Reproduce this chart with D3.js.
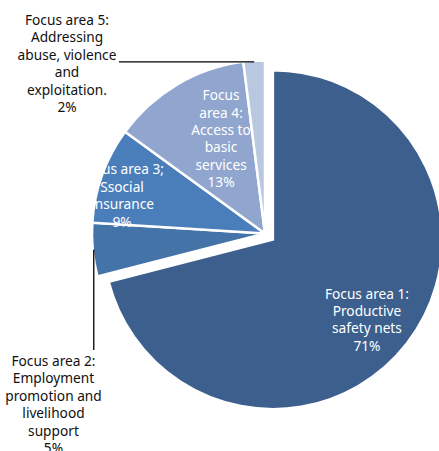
<!DOCTYPE html>
<html>
<head>
<meta charset="utf-8">
<script src="https://cdn.jsdelivr.net/npm/d3@7"></script>
<style>
  html, body { margin: 0; padding: 0; background: #ffffff; }
  svg { display: block; }
  text { font-family: "Noto Sans", "DejaVu Sans", sans-serif; }
</style>
</head>
<body>
<div id="chart"></div>
<script>
// Share of spending by focus area (percent)
const categories = [
  "Focus area 1: Productive safety nets",
  "Focus area 2: Employment promotion and livelihood support",
  "Focus area 3; Ssocial Insurance",
  "Focus area 4: Access to basic services",
  "Focus area 5: Addressing abuse, violence and exploitation."
];
const shares = [71, 5, 9, 13, 2];

// Wrapped label lines for each slice (the percentage is appended below)
const labelLines = [
  ["Focus area 1:", "Productive", "safety nets"],
  ["Focus area 2:", "Employment", "promotion and", "livelihood", "support"],
  ["Focus area 3;", "Ssocial", "Insurance"],
  ["Focus", "area 4:", "Access to", "basic", "services"],
  ["Focus area 5:", "Addressing", "abuse, violence", "and", "exploitation."]
];

const colors = ["#3c5f8d", "#4473a7", "#4a7ebb", "#91a6ce", "#b9c7e1"];

const W = 439, H = 451;
const cx = 265, cy = 233.5;
const outerR = 173;      // radius of the grouped slices
const bigR = 169.5;      // radius of the pulled-out slice
const explodeDist = 10;  // pull-out distance of the largest slice
const fontSize = 13.7, lineH = 17.4;

// Label placement: polar anchor (degrees clockwise from 12 o'clock, radius)
const labelPlace = [
  { angle: 130.3, r: 133.7, inside: true },
  { angle: 231.0, r: 272.2, inside: false, leader: "v", leaderGap: -54.8 },
  { angle: 284.8, r: 147.9, inside: true },
  { angle: 335.1, r: 104.4, inside: true },
  { angle: 310.6, r: 260.8, inside: false, leader: "h", leaderGap: 52 }
];

const svg = d3.select("#chart").append("svg")
  .attr("width", W).attr("height", H)
  .style("background", "#ffffff");

const g = svg.append("g").attr("transform", `translate(${cx},${cy})`);

const arcs = d3.pie().sort(null).value(d => d)(shares);
const rad = deg => deg * Math.PI / 180;

const arcFor = i => d3.arc().innerRadius(0).outerRadius(i === 0 ? bigR : outerR);

// Slices
arcs.forEach((a, i) => {
  const mid = (a.startAngle + a.endAngle) / 2;
  const off = i === 0 ? d3.pointRadial(mid, explodeDist) : [0, 0];
  g.append("path")
    .attr("d", arcFor(i)(a))
    .attr("transform", `translate(${off[0]},${off[1]})`)
    .attr("fill", colors[i])
    .attr("stroke", "#ffffff")
    .attr("stroke-width", 2.5)
    .attr("stroke-linejoin", "miter");
});

// Leader lines for the outside labels
arcs.forEach((a, i) => {
  const p = labelPlace[i];
  if (p.inside) return;
  const mid = (a.startAngle + a.endAngle) / 2;
  const start = d3.pointRadial(mid, outerR - 1);
  const anchor = d3.pointRadial(rad(p.angle), p.r);
  const end = p.leader === "h"
    ? [anchor[0] + p.leaderGap, start[1]]
    : [start[0], anchor[1] + p.leaderGap];
  g.append("line")
    .attr("x1", start[0]).attr("y1", start[1])
    .attr("x2", end[0]).attr("y2", end[1])
    .attr("stroke", "#000000")
    .attr("stroke-width", 1.3);
});

// Labels
arcs.forEach((a, i) => {
  const p = labelPlace[i];
  const anchor = d3.pointRadial(rad(p.angle), p.r);
  const lines = labelLines[i].concat([shares[i] + "%"]);
  const first = anchor[1] - (lines.length - 1) * lineH / 2 + 0.35 * fontSize;
  const t = g.append("text")
    .attr("text-anchor", "middle")
    .attr("font-size", fontSize)
    .attr("fill", p.inside ? "#ffffff" : "#111111");
  lines.forEach((ln, k) => {
    t.append("tspan")
      .attr("x", anchor[0])
      .attr("y", first + k * lineH)
      .text(ln);
  });
});
</script>
</body>
</html>
